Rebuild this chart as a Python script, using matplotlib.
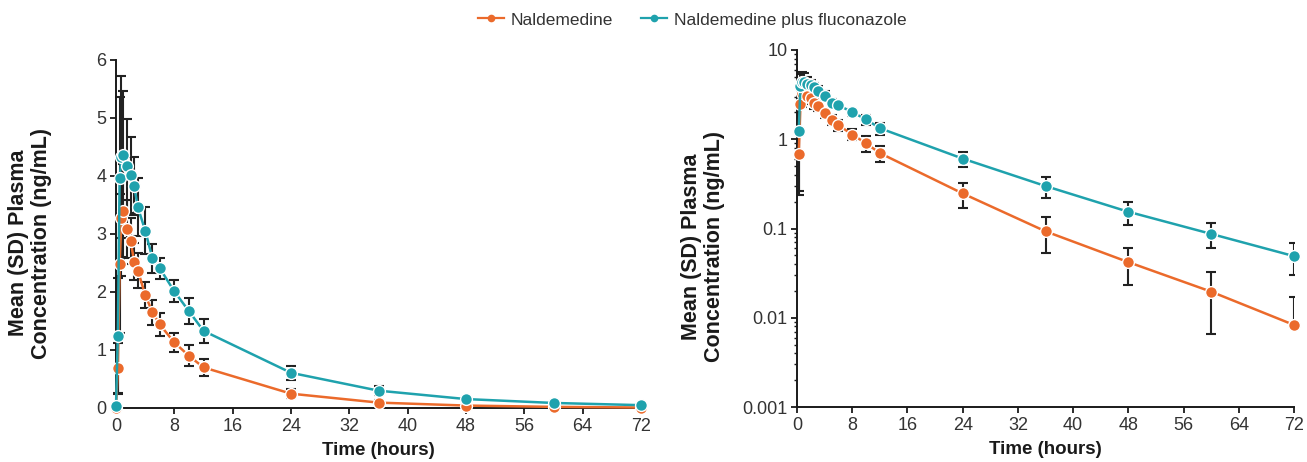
import numpy as np
import matplotlib
matplotlib.use("Agg")
import matplotlib.pyplot as plt
from matplotlib.lines import Line2D
from matplotlib.ticker import LogLocator, NullFormatter, FixedLocator

plt.rcParams['font.family'] = ['Liberation Sans', 'DejaVu Sans']

# ---- data ----
times = [0, 0.25, 0.5, 0.75, 1, 1.5, 2, 2.5, 3, 4, 5, 6, 8, 10, 12, 24, 36, 48, 60, 72]
nal_mean = [0, 0.69, 2.49, 3.27, 3.40, 3.09, 2.88, 2.52, 2.37, 1.95, 1.65, 1.44, 1.13, 0.90, 0.70,
            0.247, 0.093, 0.042, 0.0196, 0.0083]
nal_sd = [0, 0.43, 1.2, 1.0, 0.8, 0.5, 0.4, 0.32, 0.3, 0.23, 0.22, 0.2, 0.16, 0.18, 0.14,
          0.078, 0.04, 0.019, 0.013, 0.0087]
flu_mean = [0.03, 1.24, 3.96, 4.33, 4.37, 4.18, 4.02, 3.82, 3.46, 3.06, 2.58, 2.41, 2.01, 1.67, 1.33,
            0.607, 0.299, 0.154, 0.087, 0.049]
flu_sd = [0, 1.0, 1.4, 1.4, 1.1, 0.8, 0.65, 0.5, 0.5, 0.4, 0.25, 0.18, 0.19, 0.22, 0.21,
          0.12, 0.078, 0.044, 0.027, 0.019]
series_names = ["Naldemedine", "Naldemedine plus fluconazole"]
xticks = [0, 8, 16, 24, 32, 40, 48, 56, 64, 72]
lin_yticks = [0, 1, 2, 3, 4, 5, 6]
log_yticks = [0.001, 0.01, 0.1, 1, 10]
log_yticklabels = ["0.001", "0.01", "0.1", "1", "10"]

c_nal = "#EB6A2B"
c_flu = "#1FA2AD"
c_err = "#222222"

fig = plt.figure(figsize=(13.07, 4.62), dpi=100)
W, H = 1307, 462
axL = fig.add_axes([116 / W, 1 - 408 / H, (641 - 116) / W, (408 - 60) / H])
axR = fig.add_axes([797 / W, 1 - 407 / H, (1294 - 797) / W, (407 - 50) / H])

t = np.array(times, dtype=float)
series = [(np.array(nal_mean), np.array(nal_sd), c_nal), (np.array(flu_mean), np.array(flu_sd), c_flu)]

def style(ax, label_x, label_y):
    for s in ['top', 'right']:
        ax.spines[s].set_visible(False)
    for s in ['left', 'bottom']:
        ax.spines[s].set_linewidth(1.4)
        ax.spines[s].set_color("#1a1a1a")
    ax.tick_params(axis='both', which='major', direction='out', length=4, width=1.3,
                   labelsize=13, colors="#1a1a1a", labelcolor="#333333", pad=3)
    ax.set_xlim(0, 72)
    ax.set_xticks(xticks)
    ax.set_xlabel("Time (hours)", fontsize=13.5, fontweight='bold', labelpad=5, color="#1a1a1a")
    ax.set_ylabel("Mean (SD) Plasma\nConcentration (ng/mL)", fontsize=15.5,
                  fontweight='bold', linespacing=1.1, color="#1a1a1a")
    ax.yaxis.set_label_coords(label_x, label_y)

# Linear panel
for m, sd, c in series:
    axL.errorbar(t, m, yerr=sd, fmt='none', ecolor=c_err, elinewidth=1.5, capsize=3.5,
                 capthick=1.5, zorder=2, clip_on=False)
for m, sd, c in series:
    axL.plot(t, m, '-', color=c, lw=1.8, marker='o', markersize=8.5, markerfacecolor=c,
             markeredgecolor='white', markeredgewidth=1.0, zorder=3, clip_on=False)
axL.set_ylim(0, 6)
axL.set_yticks(lin_yticks)
style(axL, (52 - 116) / 525, 0.474)

# Log panel (time 0 omitted)
mask = t > 0
for m, sd, c in series:
    lower = np.where(m[mask] - sd[mask] > 0, sd[mask], 0)
    axR.errorbar(t[mask], m[mask], yerr=[lower, sd[mask]], fmt='none', ecolor=c_err,
                 elinewidth=1.5, capsize=3.5, capthick=1.5, zorder=2)
for m, sd, c in series:
    axR.plot(t[mask], m[mask], '-', color=c, lw=1.8, marker='o', markersize=8.5,
             markerfacecolor=c, markeredgecolor='white', markeredgewidth=1.0, zorder=3,
             clip_on=False)
axR.set_yscale('log')
axR.set_ylim(0.001, 10)
axR.yaxis.set_major_locator(FixedLocator(log_yticks))
axR.set_yticklabels(log_yticklabels)
axR.yaxis.set_minor_locator(LogLocator(base=10, subs=np.arange(2, 10), numticks=20))
axR.yaxis.set_minor_formatter(NullFormatter())
axR.tick_params(axis='y', which='minor', direction='out', length=2.5, width=1.0, colors="#1a1a1a")
style(axR, (725 - 797) / 497, 0.45)

handles = [Line2D([0], [0], color=c_nal, lw=1.6, marker='o', markersize=5.5,
                  markerfacecolor=c_nal, markeredgewidth=0),
           Line2D([0], [0], color=c_flu, lw=1.6, marker='o', markersize=5.5,
                  markerfacecolor=c_flu, markeredgewidth=0)]
fig.legend(handles, series_names, loc='center', bbox_to_anchor=(692 / W, 1 - 20 / H), ncol=2,
           frameon=False, fontsize=12.5, handlelength=1.5, columnspacing=1.6,
           handletextpad=0.4, labelcolor="#333333")

fig.savefig("out.png", dpi=100)
